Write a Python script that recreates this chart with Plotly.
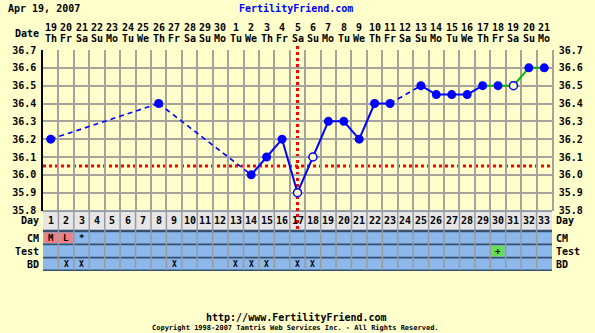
import plotly.graph_objects as go

# ---------------- data ----------------
days = list(range(1, 34))
dates = ['19', '20', '21', '22', '23', '24', '25', '26', '27', '28', '29', '30',
         '1', '2', '3', '4', '5', '6', '7', '8', '9', '10', '11', '12', '13',
         '14', '15', '16', '17', '18', '19', '20', '21']
weekdays = ['Th', 'Fr', 'Sa', 'Su', 'Mo', 'Tu', 'We', 'Th', 'Fr', 'Sa', 'Su',
            'Mo', 'Tu', 'We', 'Th', 'Fr', 'Sa', 'Su', 'Mo', 'Tu', 'We', 'Th',
            'Fr', 'Sa', 'Su', 'Mo', 'Tu', 'We', 'Th', 'Fr', 'Sa', 'Su', 'Mo']
temps = [36.2, None, None, None, None, None, None, 36.4, None, None, None, None,
         None, 36.0, 36.1, 36.2, 35.9, 36.1, 36.3, 36.3, 36.2, 36.4, 36.4, None,
         36.5, 36.45, 36.45, 36.45, 36.5, 36.5, 36.5, 36.6, 36.6]
open_days = [17, 18, 31]
cm_marks = ['M', 'L', '*'] + [''] * 30
test_marks = [''] * 29 + ['+'] + [''] * 3
bd_days = [2, 3, 9, 13, 14, 15, 17, 18]
coverline = 36.05
ovulation_day = 17
green_from = 29
y_ticks = [35.8, 35.9, 36.0, 36.1, 36.2, 36.3, 36.4, 36.5, 36.6, 36.7]

# ---------------- layout constants ----------------
W, H = 595, 333
PL, PR = 40.5, 555.0
PT, PB = 47.0, 271.0
BG = '#FFFFCC'
GRID = '#A4A49C'
BLUE = '#0000FF'
FONT = 'DejaVu Sans Mono'


def yp(py):
    return (PB - py) / (PB - PT)


def px2paper(px):
    return (px - PL) / (PR - PL)


fig = go.Figure()

# ---------------- temperature line segments ----------------
rec = [(d, t) for d, t in zip(days, temps) if t is not None]
groups = {'solid_blue': ([], []), 'dash_blue': ([], []), 'solid_green': ([], [])}
for (a, ta), (b, tb) in zip(rec[:-1], rec[1:]):
    if a >= green_from:
        key = 'solid_green'
    elif b - a > 1:
        key = 'dash_blue'
    else:
        key = 'solid_blue'
    xs, ys = groups[key]
    xs += [a, b, None]
    ys += [ta, tb, None]

fig.add_trace(go.Scatter(x=groups['dash_blue'][0], y=groups['dash_blue'][1], mode='lines',
                         line=dict(color=BLUE, width=1.6, dash='5px,4px'), hoverinfo='skip'))
fig.add_trace(go.Scatter(x=groups['solid_blue'][0], y=groups['solid_blue'][1], mode='lines',
                         line=dict(color=BLUE, width=2), hoverinfo='skip'))
fig.add_trace(go.Scatter(x=groups['solid_green'][0], y=groups['solid_green'][1], mode='lines',
                         line=dict(color='#00BB00', width=2), hoverinfo='skip'))

fx = [d for d, t in rec if d not in open_days]
fy = [t for d, t in rec if d not in open_days]
ox = [d for d, t in rec if d in open_days]
oy = [t for d, t in rec if d in open_days]
fig.add_trace(go.Scatter(x=fx, y=fy, mode='markers',
                         marker=dict(color=BLUE, size=9, line=dict(width=0))))
fig.add_trace(go.Scatter(x=ox, y=oy, mode='markers',
                         marker=dict(color=BG, size=8, line=dict(color=BLUE, width=1.5))))

shapes = []
annotations = []

# ---------------- table rows below chart ----------------
rows = [  # (top, bottom, fill)
    (211.5, 229.8, '#E6E6E6'),
    (232.2, 243.4, '#8CB8EC'),
    (245.2, 256.8, '#8CB8EC'),
    (258.4, 269.6, '#8CB8EC'),
]
shapes.append(dict(type='rect', xref='paper', yref='paper', x0=0, x1=1,
                   y0=yp(271), y1=yp(210.5), fillcolor='#34506E', line=dict(width=0),
                   layer='below'))
for top, bot, col in rows:
    shapes.append(dict(type='rect', xref='paper', yref='paper', x0=0, x1=1,
                       y0=yp(bot), y1=yp(top), fillcolor=col, line=dict(width=0),
                       layer='below'))

# special cells
for d, m in zip(days, cm_marks):
    if m in ('M', 'L'):
        shapes.append(dict(type='rect', xref='x', yref='paper', x0=d - 0.42, x1=d + 0.42,
                           y0=yp(243.0), y1=yp(232.6), fillcolor='#F08080',
                           line=dict(width=0), layer='below'))
for d, m in zip(days, test_marks):
    if m:
        shapes.append(dict(type='rect', xref='x', yref='paper', x0=d - 0.42, x1=d + 0.42,
                           y0=yp(256.4), y1=yp(245.6), fillcolor='#66DD55',
                           line=dict(width=0), layer='below'))

# vertical separators in table
for b in [d + 0.5 for d in days[:-1]]:
    shapes.append(dict(type='line', xref='x', yref='paper', x0=b, x1=b,
                       y0=yp(270), y1=yp(211), line=dict(color='#9A9A9A', width=1.5),
                       layer='below'))

# red coverline and ovulation line
shapes.append(dict(type='line', xref='paper', yref='y', x0=0, x1=1, y0=coverline, y1=coverline,
                   line=dict(color='#FF0000', width=3, dash='3px,3px'), layer='below'))
shapes.append(dict(type='line', xref='x', yref='paper', x0=ovulation_day, x1=ovulation_day,
                   y0=yp(229), y1=yp(46), line=dict(color='#FF0000', width=3, dash='3px,3px'),
                   layer='below'))


# ---------------- texts ----------------
def txt(x, y, s, xref='x', size=10, color='black', xanchor='center'):
    annotations.append(dict(x=x, y=y, xref=xref, yref='paper', text='<b>' + s + '</b>',
                            showarrow=False, xanchor=xanchor, yanchor='middle',
                            font=dict(family=FONT, size=size, color=color)))


for d, dt, wd in zip(days, dates, weekdays):
    txt(d, yp(27), dt, size=10)
    txt(d, yp(38.5), wd, size=10)
    txt(d, yp(220.5), str(d), size=10)
    if cm_marks[d - 1]:
        txt(d, yp(238), cm_marks[d - 1], size=9)
    if test_marks[d - 1]:
        txt(d, yp(251), test_marks[d - 1], size=9)
    if d in bd_days:
        txt(d, yp(264), 'X', size=8)

for label, py in [('Day', 220.5), ('CM', 238), ('Test', 251), ('BD', 264)]:
    txt(px2paper(38), yp(py), label, xref='paper', size=10, xanchor='right')
    txt(px2paper(557), yp(py), label, xref='paper', size=10, xanchor='left')
txt(px2paper(38), yp(33), 'Date', xref='paper', size=10, xanchor='right')

txt(px2paper(3), yp(9), 'Apr 19, 2007', xref='paper', size=10, xanchor='left')
txt(px2paper(296), yp(9), 'FertilityFriend.com', xref='paper', size=10, color='#0000FF')
txt(px2paper(297), yp(317), 'http://www.FertilityFriend.com', xref='paper', size=10)
txt(px2paper(296), yp(328),
    'Copyright 1998-2007 Tamtris Web Services Inc. - All Rights Reserved.',
    xref='paper', size=7)

tick_text = ['<b>%.1f</b>' % v for v in y_ticks]

fig.update_layout(
    width=W, height=H,
    margin=dict(l=PL, r=W - PR, t=PT, b=H - PB, pad=0),
    paper_bgcolor=BG, plot_bgcolor=BG,
    showlegend=False,
    xaxis=dict(range=[0.5, 33.5], tickmode='array', tickvals=[d + 0.5 for d in days[:-1]],
               showticklabels=False, ticks='', showgrid=True, gridcolor=GRID, gridwidth=1.5,
               zeroline=False, showline=False, anchor='y', fixedrange=True),
    yaxis=dict(range=[35.8, 36.7], domain=[yp(210.5), yp(50)], tickmode='array',
               tickvals=y_ticks, ticktext=tick_text, showgrid=True, gridcolor=GRID,
               gridwidth=1.5, zeroline=False, showline=True, linecolor='black', linewidth=1.5,
               ticks='', tickfont=dict(family=FONT, size=10, color='black'),
               ticklabelstandoff=3),
    yaxis2=dict(range=[35.8, 36.7], domain=[yp(210.5), yp(50)], overlaying='y', side='right',
                tickmode='array', tickvals=y_ticks, ticktext=tick_text, showgrid=False,
                zeroline=False, showline=True, linecolor='#A4A49C', linewidth=1.5, ticks='',
                tickfont=dict(family=FONT, size=10, color='black'), anchor='x',
                ticklabelstandoff=3),
    shapes=shapes,
    annotations=annotations,
)
# dummy trace so the right axis is drawn
fig.add_trace(go.Scatter(x=[None], y=[None], yaxis='y2', hoverinfo='skip'))

fig.write_html('out.html')
